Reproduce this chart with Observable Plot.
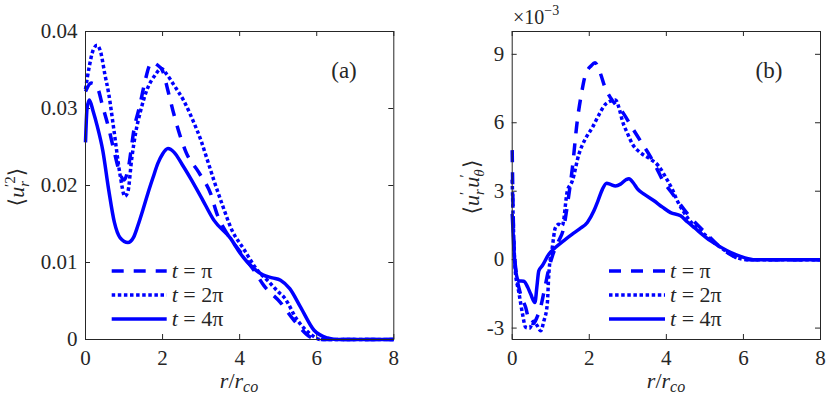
<!DOCTYPE html>
<html><head><meta charset="utf-8">
<script src="https://cdn.jsdelivr.net/npm/d3@7"></script>
<script src="https://cdn.jsdelivr.net/npm/@observablehq/plot@0.6"></script>
<style>
body{margin:0;background:#fff;}
#wrap{position:relative;width:830px;height:399px;overflow:hidden;}
#wrap > svg{position:absolute;top:0;}
</style></head>
<body><div id="wrap"></div>
<script>
// ---------- data ----------
const xTicks = [0, 2, 4, 6, 8];
const yTicksA = [0, 0.01, 0.02, 0.03, 0.04];
const yTicksB = [-0.003, 0, 0.003, 0.006, 0.009];
const seriesNames = ["π", "2π", "4π"];

// panel (a): <u_r'^2>
const a_pi_r = [0,0.15,0.3,0.45,0.6,0.75,0.9,1.0,1.1,1.27,1.4,1.53,1.66,1.72,1.85,2.0,2.14,2.27,2.44,2.61,2.94,3.25,3.42,3.68,4.0,4.37,4.63,5.06,5.41,5.84,6.0,7.0,8.0];
const a_pi_v = [0.0322,0.0333,0.0328,0.0302,0.0275,0.0243,0.0215,0.0207,0.0220,0.0276,0.0302,0.0332,0.0356,0.0360,0.0357,0.0349,0.0323,0.0297,0.0267,0.0243,0.0217,0.0189,0.0162,0.0137,0.0115,0.0090,0.0070,0.0048,0.0025,0.0003,0,0,0];
const a_2pi_r = [0,0.1,0.2,0.3,0.4,0.5,0.6,0.74,0.9,1.02,1.1,1.2,1.3,1.43,1.6,1.8,1.97,2.1,2.3,2.55,2.8,3.0,3.15,3.33,3.55,3.8,4.1,4.46,4.72,5.0,5.15,5.5,5.84,6.1,7.0,8.0];
const a_2pi_v = [0.0325,0.0355,0.0376,0.0382,0.0372,0.0345,0.0320,0.0271,0.0213,0.0186,0.0192,0.0235,0.0268,0.0297,0.0325,0.0343,0.0352,0.0345,0.0330,0.0310,0.0283,0.0258,0.0235,0.0207,0.0175,0.0142,0.0118,0.0090,0.0077,0.0062,0.0055,0.0025,0.0007,0,0,0];
const a_4pi_r = [0,0.04,0.1,0.2,0.3,0.45,0.6,0.75,0.9,1.1,1.25,1.36,1.5,1.62,1.75,1.88,2.0,2.14,2.3,2.5,2.73,3.0,3.33,3.77,4.0,4.37,4.6,4.85,5.06,5.3,5.58,5.93,6.28,6.5,8.0];
const a_4pi_v = [0.0256,0.0300,0.0311,0.0296,0.0278,0.0245,0.0195,0.0152,0.0132,0.0126,0.0133,0.0148,0.0170,0.0190,0.0210,0.0229,0.0241,0.0248,0.0243,0.0228,0.0209,0.0185,0.0155,0.0131,0.0113,0.0092,0.0084,0.0080,0.0077,0.0066,0.0042,0.0012,0.0002,0,0];

// panel (b): <u_r' u_theta'>
const b_pi_r = [0,0.02,0.05,0.1,0.2,0.35,0.45,0.55,0.65,0.75,0.85,0.95,1.05,1.2,1.33,1.45,1.56,1.69,1.8,1.9,2.05,2.15,2.28,2.42,2.55,2.68,2.85,3.07,3.33,3.59,3.75,3.93,4.11,4.37,4.6,5.0,5.4,5.8,6.0,7.0,8.0];
const b_pi_v = [0.0048,0.0025,0.0005,-0.0005,-0.0014,-0.0021,-0.0027,-0.0028,-0.0025,-0.0020,-0.0012,-0.0004,0.0002,0.0008,0.00135,0.0026,0.0040,0.0061,0.0073,0.0081,0.0085,0.00863,0.0082,0.0075,0.0071,0.0068,0.0065,0.0059,0.0052,0.0045,0.0040,0.0034,0.0030,0.0024,0.0019,0.0012,0.00055,0.0001,0,0,0];
const b_2pi_r = [0,0.03,0.08,0.17,0.27,0.35,0.45,0.55,0.65,0.74,0.82,0.91,0.95,1.04,1.12,1.21,1.3,1.43,1.56,1.73,1.9,2.08,2.25,2.42,2.55,2.68,2.78,2.86,3.0,3.12,3.25,3.38,3.59,3.8,4.02,4.15,4.28,4.55,4.98,5.41,5.84,6.1,7.0,8.0];
const b_2pi_v = [0.0035,0.0015,-0.0005,-0.0014,-0.0024,-0.00297,-0.0030,-0.0027,-0.0029,-0.00312,-0.0027,-0.00195,-0.00064,0.00053,0.0014,0.00155,0.0015,0.0030,0.00345,0.00462,0.0053,0.00579,0.00635,0.00681,0.00695,0.0070,0.0066,0.00608,0.0055,0.00506,0.0048,0.00462,0.0044,0.0041,0.0035,0.0031,0.0026,0.00184,0.00112,0.00053,0.00009,0,0,0];
const b_4pi_r = [0,0.04,0.09,0.17,0.3,0.4,0.48,0.59,0.64,0.69,0.78,0.95,1.12,1.35,1.56,1.75,1.95,2.12,2.23,2.34,2.45,2.55,2.68,2.81,2.95,3.03,3.15,3.25,3.42,3.68,3.9,4.11,4.37,4.55,4.72,5.15,5.58,6.02,6.3,8.0];
const b_4pi_v = [0.0020,0.0006,-0.00049,-0.00093,-0.00095,-0.0012,-0.00151,-0.00188,-0.0012,-0.00049,-0.00027,0.00024,0.00053,0.00085,0.00112,0.00135,0.00163,0.00214,0.0026,0.00308,0.00335,0.0033,0.00323,0.00331,0.0035,0.00355,0.00335,0.0031,0.00287,0.00258,0.0023,0.00206,0.00192,0.00165,0.00141,0.00082,0.00039,0.00009,0,0];

// ---------- styling ----------
const BLUE = "#0000ff";
const AX = "#262626";
const FONT = "'Liberation Serif', 'DejaVu Serif', 'Times New Roman', serif";
const dashes = ["12,10", "3.5,2.6", null];
const H = 399, MT = 31, MB = 60;

function panel({series, yDomain, yTicks, yFmt, width, ml, mr}) {
  const fh = H - MT - MB, fw = width - ml - mr;
  const tick = {stroke: AX, strokeWidth: 1};
  return Plot.plot({
    width, height: H, marginLeft: ml, marginRight: mr, marginTop: MT, marginBottom: MB,
    x: {domain: [0, 8]},
    y: {domain: yDomain},
    style: {fontFamily: FONT, fontSize: "21px", color: AX, background: "transparent", overflow: "visible"},
    marks: [
      Plot.axisX(xTicks, {tickSize: 0, tickPadding: 11, tickFormat: d => String(d), label: null, fontSize: 21}),
      Plot.axisY(yTicks, {tickSize: 0, tickPadding: 8, tickFormat: yFmt, label: null, fontSize: 21}),
      Plot.tickX(xTicks, {x: d => d, insetTop: fh - 5, ...tick}),
      Plot.tickX(xTicks, {x: d => d, insetBottom: fh - 5, ...tick}),
      Plot.tickY(yTicks, {y: d => d, insetRight: fw - 5, ...tick}),
      Plot.tickY(yTicks, {y: d => d, insetLeft: fw - 5, ...tick}),
      ...series.map(([r, v], i) => Plot.line(r, {
        x: r, y: v, stroke: BLUE, strokeWidth: 3.5, curve: "monotone-x",
        strokeDasharray: dashes[i], strokeLinecap: "butt", strokeLinejoin: "round"
      })),
      Plot.frame({stroke: AX, strokeWidth: 1})
    ]
  });
}

const wrap = document.getElementById("wrap");
const svgA = panel({
  series: [[a_pi_r, a_pi_v], [a_2pi_r, a_2pi_v], [a_4pi_r, a_4pi_v]],
  yDomain: [0, 0.04], yTicks: yTicksA,
  yFmt: d => d === 0 ? "0" : d.toFixed(2),
  width: 415, ml: 85, mr: 21.7
});
svgA.style.left = "0px";
wrap.appendChild(svgA);
const svgB = panel({
  series: [[b_pi_r, b_pi_v], [b_2pi_r, b_2pi_v], [b_4pi_r, b_4pi_v]],
  yDomain: [-0.0035, 0.010], yTicks: yTicksB,
  yFmt: d => String(Math.round(d * 1000)),
  width: 415, ml: 96.7, mr: 10
});
svgB.style.left = "415px";
wrap.appendChild(svgB);

// ---------- overlay: labels and legends ----------
const ov = d3.select(wrap).append("svg")
  .attr("width", 830).attr("height", H)
  .style("left", "0px").style("font-family", FONT).attr("fill", AX);

function xlabel(cx) {
  const t = ov.append("text").attr("x", cx).attr("y", 388).attr("text-anchor", "middle").attr("font-size", 22);
  t.append("tspan").attr("font-style", "italic").text("r");
  t.append("tspan").text("/");
  t.append("tspan").attr("font-style", "italic").text("r");
  t.append("tspan").attr("font-style", "italic").attr("font-size", 16).attr("dy", 4).text("co");
}
xlabel(239);
xlabel(666);

// y label (a): <u_r'^2>
{
  const t = ov.append("text").attr("transform", "translate(24,187) rotate(-90)").attr("text-anchor", "middle").attr("font-size", 22);
  t.append("tspan").text("⟨");
  t.append("tspan").attr("font-style", "italic").text("u");
  t.append("tspan").attr("font-style", "italic").attr("font-size", 15).attr("dy", 5).text("r");
  t.append("tspan").attr("font-size", 15).attr("dx", -6).attr("dy", -14).text("′2");
  t.append("tspan").attr("dy", 9).text("⟩");
}
// y label (b): <u_r' u_theta'>
{
  const t = ov.append("text").attr("transform", "translate(479,187) rotate(-90)").attr("text-anchor", "middle").attr("font-size", 22);
  t.append("tspan").text("⟨");
  t.append("tspan").attr("font-style", "italic").text("u");
  t.append("tspan").attr("font-style", "italic").attr("font-size", 15).attr("dy", 5).text("r");
  t.append("tspan").attr("font-size", 15).attr("dx", -6).attr("dy", -14).text("′");
  t.append("tspan").attr("font-style", "italic").attr("dx", 4).attr("dy", 9).text("u");
  t.append("tspan").attr("font-style", "italic").attr("font-size", 15).attr("dy", 5).text("θ");
  t.append("tspan").attr("font-size", 15).attr("dx", -8).attr("dy", -14).text("′");
  t.append("tspan").attr("dx", 6).attr("dy", 9).text("⟩");
}
// panel tags
ov.append("text").attr("x", 344).attr("y", 78).attr("text-anchor", "middle").attr("font-size", 23).text("(a)");
ov.append("text").attr("x", 769).attr("y", 78).attr("text-anchor", "middle").attr("font-size", 23).text("(b)");
// exponent
{
  const t = ov.append("text").attr("x", 513).attr("y", 24).attr("font-size", 20);
  t.append("tspan").text("×10");
  t.append("tspan").attr("font-size", 14).attr("dy", -9).text("−3");
}
// legends
function legend(x0, x1) {
  seriesNames.forEach((name, i) => {
    const y = 271 + 24 * i;
    ov.append("line").attr("x1", x0).attr("x2", x1).attr("y1", y).attr("y2", y)
      .attr("stroke", BLUE).attr("stroke-width", 3.5)
      .attr("stroke-dasharray", dashes[i]).attr("stroke-linecap", "butt");
    const t = ov.append("text").attr("x", x1 + 5).attr("y", y + 7).attr("font-size", 22).attr("fill", AX);
    t.append("tspan").attr("font-style", "italic").text("t");
    t.append("tspan").text(" = " + name);
  });
}
legend(111.7, 166.7);
legend(609, 665);
</script></body></html>
